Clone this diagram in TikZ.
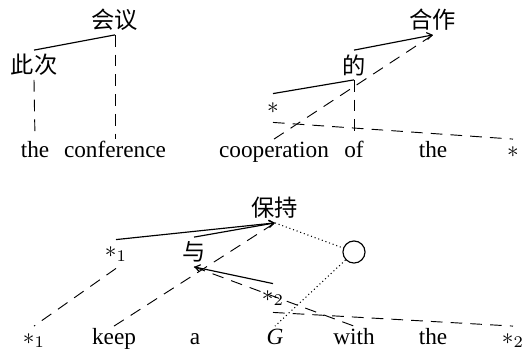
\documentclass[tikz,border=0pt]{standalone}
\usepackage{fontspec}
\setmainfont{Liberation Serif}
\newfontfamily\cjk{Noto Sans CJK SC}
\usetikzlibrary{arrows.meta}

\begin{document}
\begin{tikzpicture}[x=0.43pt,y=-0.43pt,
  zh/.style={font=\cjk,inner sep=0pt,minimum height=12.4pt},
  sym/.style={inner sep=0pt,minimum height=12pt},
  word/.style={anchor=base,inner sep=1pt,text height=6.5pt,text depth=2pt},
  tree/.style={line width=0.5pt},
  arr/.style={tree,-{Straight Barb[length=2.2pt,width=3pt]}},
  link/.style={line width=0.4pt,dash pattern=on 5pt off 3.5pt},
  gap/.style={line width=0.45pt,dash pattern=on 0.45pt off 1.2pt}]
\useasboundingbox (0,0) rectangle (523,349);
% word rows
\foreach \x/\w/\n in {35/the/ta,115/conference/tb,274/cooperation/tc,354/of/td,433/the/te,513/$*$/tf}
  {\node[word] (\n) at (\x,157) {\w};}
\foreach \x/\w/\n in {34/$*_1$/ba,114/keep/bb,195/a/bc,275/\textit{G}/bd,354/with/be,433/the/bf,513/$*_2$/bg}
  {\node[word] (\n) at (\x,344) {\w};}
% upper left tree
\node[zh] (huiyi) at (115,20) {会议};
\node[zh] (cici) at (34,65) {此次};
\draw[tree] (cici.north) -- (huiyi.south);
\draw[link] (cici.south) -- (ta.north);
\draw[link] (huiyi.south) -- (tb.north);
% upper right tree
\node[zh] (hezuo) at (433,20) {合作};
\node[zh] (de) at (354,65) {的};
\node[sym] (st) at (273,108) {$*$};
\draw[arr] (de.north) -- (hezuo.south);
\draw[tree] (st.north) -- (de.south);
\draw[link] (de.south) -- (td.north);
\draw[link] (tc.north) -- (hezuo.south);
\draw[link] (st.south) -- (tf.north);
% lower tree
\node[zh] (baochi) at (275,208) {保持};
\node[zh] (yu) at (194,252) {与};
\node[sym] (sa) at (116,254) {$*_1$};
\node[sym] (sb) at (273,298) {$*_2$};
\node[draw,circle,line width=0.5pt,inner sep=0pt,minimum size=9.5pt] (gp) at (354,252) {};
\draw[arr] (sa.north) -- (baochi.south);
\draw[arr] (yu.north) -- (baochi.south);
\draw[arr] (sb.north) -- (yu.south);
\draw[link] (sa.south) -- (ba.north);
\draw[link] (bb.north) -- (baochi.south);
\draw[link] (yu.south) -- (be.north);
\draw[link] (sb.south) -- (bg.north);
\draw[gap] (baochi.south) -- (gp);
\draw[gap] (gp) -- (bd.north);
\end{tikzpicture}
\end{document}
